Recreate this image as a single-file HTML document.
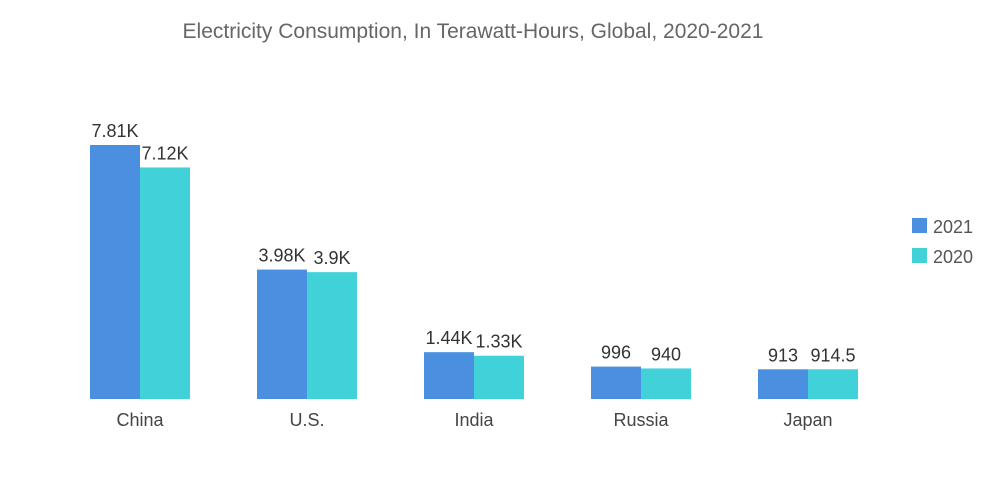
<!DOCTYPE html>
<html><head><meta charset="utf-8"><style>
body{margin:0;background:#fff;font-family:"Liberation Sans",sans-serif;}
svg{display:block}
</style></head><body>
<svg id="chart" width="1000" height="504">
<text x="473" y="38" text-anchor="middle" font-size="21" fill="#666">Electricity Consumption, In Terawatt-Hours, Global, 2020-2021</text>
<g id="bars"></g>
<g>
<rect x="912" y="218" width="15" height="15" fill="#4a8fe0"></rect>
<text x="933" y="233" font-size="18" fill="#555">2021</text>
<rect x="912" y="248" width="15" height="15" fill="#40d1d9"></rect>
<text x="933" y="263" font-size="18" fill="#555">2020</text>
</g>
</svg>
<script>
const categories=["China","U.S.","India","Russia","Japan"];
const values2021=[7810,3980,1440,996,913];
const values2020=[7120,3900,1330,940,914.5];
const labels2021=["7.81K","3.98K","1.44K","996","913"];
const labels2020=["7.12K","3.9K","1.33K","940","914.5"];
const baseY=399, scale=254/7810, x0=90, step=167, bw=50;
const yFor=v=>baseY-v*scale;
const g=document.getElementById('bars');
const NS="http://www.w3.org/2000/svg";
function mk(t,a){const e=document.createElementNS(NS,t);for(const k in a)e.setAttribute(k,a[k]);return e;}
categories.forEach((c,i)=>{
  const x=x0+i*step;
  [[values2021,labels2021,"#4a8fe0",0,"2021"],[values2020,labels2020,"#40d1d9",bw,"2020"]].forEach(([vals,labs,col,off,yr])=>{
    const y=yFor(vals[i]);
    const r=mk('rect',{x:x+off,y:y,width:bw,height:baseY-y,fill:col});
    
    
    g.appendChild(r);
    const t=mk('text',{x:x+off+bw/2,y:y-8,'text-anchor':'middle','font-size':'18',fill:'#333'});
    t.textContent=labs[i];
    
    
    g.appendChild(t);
  });
  const l=mk('text',{x:x+bw,y:426,'text-anchor':'middle','font-size':'18',fill:'#444'});
  l.textContent=c;
  
  
  g.appendChild(l);
});
</script>
</body></html>
